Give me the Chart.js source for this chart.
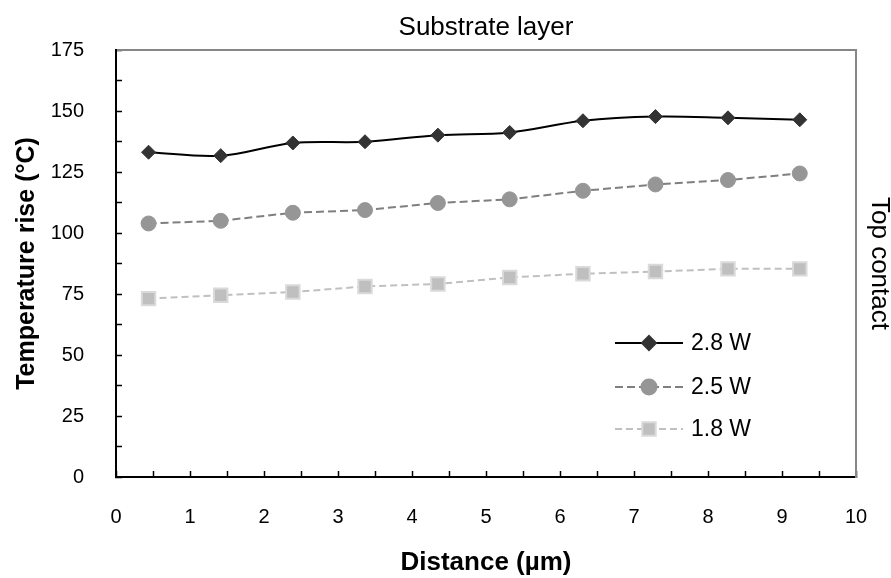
<!DOCTYPE html>
<html>
<head>
<meta charset="utf-8">
<script src="https://cdn.jsdelivr.net/npm/chart.js@4"></script>
<style>
  html, body { margin: 0; padding: 0; background: #fff; overflow: hidden; }
  #wrap { width: 891px; height: 578px; position: relative; }
  canvas { display: block; }
</style>
</head>
<body>
<div id="wrap"><canvas id="tempChart"></canvas></div>
<script>
// values
const distance = [0.44, 1.415, 2.39, 3.365, 4.35, 5.32, 6.31, 7.29, 8.27, 9.24];
const w28 = [133.1, 131.7, 136.9, 137.4, 140.1, 141.2, 146.0, 147.7, 147.2, 146.4];
const w25 = [103.9, 105.0, 108.3, 109.4, 112.3, 113.8, 117.3, 119.9, 121.7, 124.4];
const w18 = [73.1, 74.5, 75.8, 78.1, 79.1, 81.8, 83.3, 84.2, 85.3, 85.3];
const seriesLabels = ['2.8 W', '2.5 W', '1.8 W'];

const FONT = "'Liberation Sans', Arial, sans-serif";

function pts(ys) {
    return ys.map((y, i) => ({ x: distance[i], y: y }));
}

// legend drawn inside the plot, lower right
const insideLegend = {
    id: 'insideLegend',
    afterDatasetsDraw(chart) {
        const ctx = chart.ctx;
        const area = chart.chartArea;
        const x0 = area.left + 499, x1 = area.left + 567;
        const rows = [293, 337, 379];
        chart.data.datasets.forEach((ds, i) => {
            const y = area.top + rows[i];
            ctx.save();
            ctx.strokeStyle = ds.borderColor;
            ctx.lineWidth = ds.borderWidth;
            ctx.setLineDash(ds.borderDash || []);
            ctx.beginPath();
            ctx.moveTo(x0, y);
            ctx.lineTo(x1, y);
            ctx.stroke();
            ctx.setLineDash([]);
            ctx.fillStyle = ds.pointBackgroundColor;
            ctx.strokeStyle = ds.pointBorderColor;
            Chart.helpers.drawPoint(ctx, {
                pointStyle: ds.pointStyle,
                radius: ds.pointRadius,
                borderWidth: ds.pointBorderWidth,
                rotation: 0
            }, (x0 + x1) / 2, y);
            ctx.fillStyle = '#000';
            ctx.font = '23px ' + FONT;
            ctx.textBaseline = 'middle';
            ctx.fillText(ds.label, x1 + 8, y + 1);
            ctx.restore();
        });
    }
};

new Chart(document.getElementById('tempChart'), {
    type: 'line',
    data: {
        datasets: [
            {
                label: seriesLabels[0],
                data: pts(w28),
                borderColor: '#000000',
                borderWidth: 2,
                tension: 0.35,
                pointStyle: 'rectRot',
                pointRadius: 7,
                pointBackgroundColor: '#333333',
                pointBorderColor: '#333333',
                pointBorderWidth: 1
            },
            {
                label: seriesLabels[1],
                data: pts(w25),
                borderColor: '#7f7f7f',
                borderWidth: 2,
                borderDash: [8, 4],
                tension: 0,
                pointStyle: 'circle',
                pointRadius: 7.5,
                pointBackgroundColor: '#969696',
                pointBorderColor: '#969696',
                pointBorderWidth: 1
            },
            {
                label: seriesLabels[2],
                data: pts(w18),
                borderColor: '#c0c0c0',
                borderWidth: 2,
                borderDash: [7, 4],
                tension: 0,
                pointStyle: 'rect',
                pointRadius: 9.5,
                pointBackgroundColor: '#bfbfbf',
                pointBorderColor: '#dadada',
                pointBorderWidth: 2
            }
        ]
    },
    options: {
        responsive: true,
        maintainAspectRatio: false,
        animation: false,
        layout: { padding: 0 },
        plugins: {
            legend: { display: false },
            tooltip: { enabled: false },
            title: {
                display: true,
                text: 'Substrate layer',
                fullSize: false,
                color: '#000',
                font: { family: FONT, size: 26, weight: 'normal', lineHeight: 1.2 },
                padding: { top: 9, bottom: 6.8 }
            }
        },
        scales: {
            x: {
                type: 'linear',
                position: 'bottom',
                min: 0,
                max: 10,
                afterFit: (s) => {
                    s.height = 101;
                    // the big label padding should not shrink the plot sideways
                    s.paddingLeft = 12;
                    s.paddingRight = 12;
                },
                ticks: {
                    stepSize: 0.5,
                    autoSkip: false,
                    maxRotation: 0,
                    color: '#000',
                    padding: 34,
                    font: { family: FONT, size: 20 },
                    callback: (v) => Number.isInteger(v) ? v : ''
                },
                grid: { drawOnChartArea: false, tickLength: -6, tickColor: '#000', tickWidth: 1.5 },
                border: { color: '#000', width: 2 },
                title: {
                    display: true,
                    text: 'Distance (µm)',
                    color: '#000',
                    font: { family: FONT, size: 26, weight: 'bold', lineHeight: 1.2 },
                    padding: { top: -2, bottom: 0 }
                }
            },
            x2: {
                type: 'linear',
                position: 'top',
                min: 0,
                max: 10,
                afterFit: (s) => { s.height = 0; },
                ticks: { display: false },
                grid: { display: false },
                border: { color: '#868686', width: 2 }
            },
            y: {
                position: 'left',
                min: 0,
                max: 175,
                afterFit: (s) => { s.width = 116; },
                ticks: {
                    stepSize: 12.5,
                    autoSkip: false,
                    color: '#000',
                    padding: 38,
                    font: { family: FONT, size: 20 },
                    callback: (v) => v % 25 === 0 ? v : ''
                },
                grid: { drawOnChartArea: false, tickLength: -6, tickColor: '#000', tickWidth: 1.5 },
                border: { color: '#000', width: 2 },
                title: {
                    display: true,
                    text: 'Temperature rise (°C)',
                    color: '#000',
                    font: { family: FONT, size: 25, weight: 'bold', lineHeight: 1.2 },
                    padding: { top: 12, bottom: 0 }
                }
            },
            y2: {
                position: 'right',
                min: 0,
                max: 175,
                afterFit: (s) => { s.width = 35; },
                ticks: { display: false },
                grid: { display: false },
                border: { color: '#868686', width: 2 },
                title: {
                    display: true,
                    text: 'Top contact',
                    color: '#000',
                    font: { family: FONT, size: 26, weight: 'normal', lineHeight: 1.2 },
                    padding: { top: -4, bottom: 0 }
                }
            }
        }
    },
    plugins: [insideLegend]
});
</script>
</body>
</html>
